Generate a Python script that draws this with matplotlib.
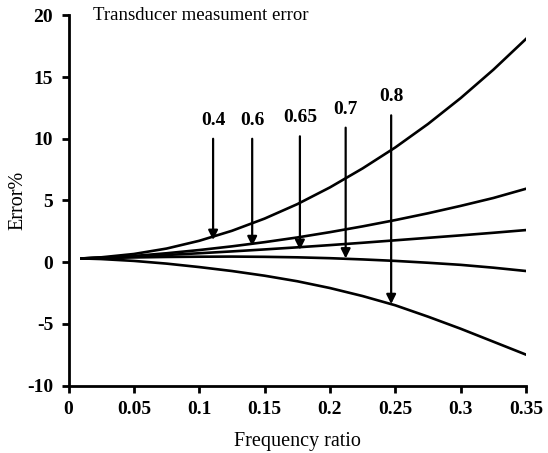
import matplotlib
matplotlib.use("Agg")
import matplotlib.pyplot as plt

plt.rcParams["axes.unicode_minus"] = False

# frequency ratio samples
freq_ratio = [0.01, 0.025, 0.05, 0.075, 0.1, 0.125, 0.15, 0.175, 0.2,
              0.225, 0.25, 0.275, 0.3, 0.325, 0.35]

# error % for each damping ratio
err_04 = [0.3, 0.39, 0.66, 1.1, 1.73, 2.54, 3.53, 4.7, 6.06, 7.6, 9.3, 11.2, 13.3, 15.6, 18.1]
err_06 = [0.3, 0.36, 0.5, 0.72, 0.98, 1.28, 1.62, 2.0, 2.43, 2.9, 3.41, 3.96, 4.56, 5.2, 5.95]
err_065 = [0.3, 0.35, 0.45, 0.58, 0.72, 0.87, 1.03, 1.2, 1.38, 1.57, 1.77, 1.97, 2.17, 2.38, 2.6]
err_07 = [0.3, 0.33, 0.38, 0.42, 0.44, 0.45, 0.43, 0.39, 0.32, 0.22, 0.1, -0.05, -0.22, -0.45, -0.72]
err_08 = [0.3, 0.25, 0.1, -0.12, -0.4, -0.72, -1.1, -1.55, -2.1, -2.75, -3.5, -4.42, -5.4, -6.45, -7.5]

# arrow annotations: label, x position, arrow start, arrow tip
arrow_labels = ["0.4", "0.6", "0.65", "0.7", "0.8"]
arrow_x = [0.1106, 0.1405, 0.177, 0.212, 0.2468]
arrow_top = [10.0, 10.0, 10.2, 10.9, 11.9]
arrow_tip = [1.8, 1.3, 1.0, 0.3, -3.4]

serif = "Liberation Serif"

fig = plt.figure(figsize=(5.48, 4.53), dpi=100)
ax = fig.add_axes([0.125, 0.149, 0.835, 0.817])

for err in [err_04, err_06, err_065, err_07, err_08]:
    ax.plot(freq_ratio, err, color="black", lw=1.9)

for lab, x, top, tip in zip(arrow_labels, arrow_x, arrow_top, arrow_tip):
    ax.annotate("", xy=(x, tip), xytext=(x, top),
                arrowprops=dict(arrowstyle="-|>", color="black", lw=1.6,
                                mutation_scale=14, shrinkA=0, shrinkB=0))
    ax.text(x, top + 0.8, lab, ha="center", va="bottom", family=serif,
            fontsize=14, fontweight="bold")

ax.text(0.0188, 20.0, "Transducer measument error", family=serif, fontsize=13.5,
        va="center", ha="left")

ax.set_xlim(0, 0.35)
ax.set_ylim(-10, 20)
ax.set_xticks([0, 0.05, 0.1, 0.15, 0.2, 0.25, 0.3, 0.35])
ax.set_xticklabels(["0", "0.05", "0.1", "0.15", "0.2", "0.25", "0.3", "0.35"])
ax.set_yticks([-10, -5, 0, 5, 10, 15, 20])
for lbl in ax.get_xticklabels() + ax.get_yticklabels():
    lbl.set_family(serif)
    lbl.set_fontsize(14)
    lbl.set_fontweight("bold")

ax.spines["top"].set_visible(False)
ax.spines["right"].set_visible(False)
ax.spines["left"].set_linewidth(2)
ax.spines["bottom"].set_linewidth(2)
ax.tick_params(direction="out", length=5, width=2, pad=6)

ax.set_xlabel("Frequency ratio", family=serif, fontsize=14.5, labelpad=10)
ax.set_ylabel("Error%", family=serif, fontsize=14.5)
ax.yaxis.set_label_coords(-0.09, 0.5)

fig.savefig("out.png", dpi=100)
